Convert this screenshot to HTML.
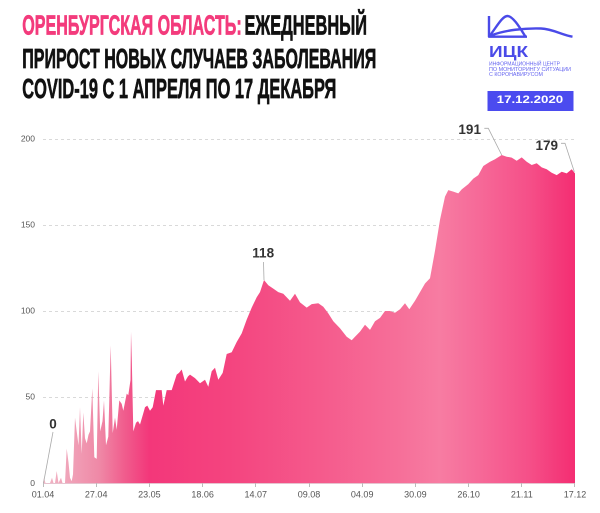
<!DOCTYPE html>
<html><head><meta charset="utf-8"><style>
html,body{margin:0;padding:0;background:#fff;}
svg{display:block;}
</style></head><body>
<svg width="600" height="513" viewBox="0 0 600 513" xmlns="http://www.w3.org/2000/svg">
<defs>
<linearGradient id="g" gradientUnits="userSpaceOnUse" x1="43" y1="0" x2="575" y2="0">
<stop offset="0" stop-color="#f2b6c6"/>
<stop offset="0.05" stop-color="#f0a2b8"/>
<stop offset="0.107" stop-color="#ef88a6"/>
<stop offset="0.154" stop-color="#f05c8d"/>
<stop offset="0.2" stop-color="#f3377a"/>
<stop offset="0.35" stop-color="#f4447f"/>
<stop offset="0.52" stop-color="#f55a8c"/>
<stop offset="0.67" stop-color="#f66f99"/>
<stop offset="0.746" stop-color="#f77ca2"/>
<stop offset="0.82" stop-color="#f66998"/>
<stop offset="0.915" stop-color="#f54f88"/>
<stop offset="1" stop-color="#f42d72"/>
</linearGradient>
</defs>
<rect width="600" height="513" fill="#fff"/>

<!-- Title -->
<g font-family="'Liberation Sans','DejaVu Sans',sans-serif" font-weight="bold" font-size="27.5" stroke-width="0.7">
<text x="22.3" y="34.5" fill="#f33b7c" stroke="#f33b7c" textLength="219.4" lengthAdjust="spacingAndGlyphs">ОРЕНБУРГСКАЯ ОБЛАСТЬ:</text>
<text x="244.5" y="34.5" fill="#111" stroke="#111" textLength="122.5" lengthAdjust="spacingAndGlyphs">ЕЖЕДНЕВНЫЙ</text>
<text x="22.3" y="68" fill="#111" stroke="#111" textLength="354" lengthAdjust="spacingAndGlyphs">ПРИРОСТ НОВЫХ СЛУЧАЕВ ЗАБОЛЕВАНИЯ</text>
<text x="22.3" y="97.8" fill="#111" stroke="#111" textLength="314" lengthAdjust="spacingAndGlyphs">COVID-19 С 1 АПРЕЛЯ ПО 17 ДЕКАБРЯ</text>
</g>

<!-- Logo -->
<g fill="none" stroke="#4a4ae8" stroke-width="2.4" stroke-linejoin="round" stroke-linecap="butt">
<path d="M489,16 V36.7 H527"/>
<path d="M489,36.7 C496,28 502,16 507.5,16 C513,16 520,28 525.5,36.7"/>
<path d="M491,35.5 C505,30 525,28 541,28.5 C553,29 562,35 572.5,36.7"/>
</g>
<g font-family="'Liberation Sans','DejaVu Sans',sans-serif" font-weight="bold" fill="#4a4ae8">
<text x="489" y="57" font-size="16" textLength="39" lengthAdjust="spacingAndGlyphs">ИЦК</text>
<g font-size="5" fill="#6464f0" font-weight="normal">
<text x="489" y="65.5" textLength="71" lengthAdjust="spacingAndGlyphs">ИНФОРМАЦИОННЫЙ ЦЕНТР</text>
<text x="489" y="70.8" textLength="82" lengthAdjust="spacingAndGlyphs">ПО МОНИТОРИНГУ СИТУАЦИИ</text>
<text x="489" y="76" textLength="54" lengthAdjust="spacingAndGlyphs">С КОРОНАВИРУСОМ</text>
</g>
</g>
<rect x="487.5" y="91" width="86" height="20" fill="#4b4bef"/>
<text x="496.7" y="102.8" font-family="'Liberation Sans',sans-serif" font-weight="bold" font-size="11" fill="#fff" textLength="66.5" lengthAdjust="spacingAndGlyphs">17.12.2020</text>

<!-- Grid -->
<g stroke="#d9d9d9" stroke-width="1" stroke-dasharray="3,3">
<line x1="43" y1="139.5" x2="575" y2="139.5"/>
<line x1="43" y1="225.5" x2="575" y2="225.5"/>
<line x1="43" y1="311.5" x2="575" y2="311.5"/>
<line x1="43" y1="397.5" x2="575" y2="397.5"/>
</g>
<g font-family="'Liberation Sans',sans-serif" font-size="8.5" fill="#555" text-anchor="end">
<text x="35" y="141.5">200</text>
<text x="35" y="227.5">150</text>
<text x="35" y="313.5">100</text>
<text x="35" y="399.5">50</text>
<text x="35" y="486">0</text>
</g>

<!-- Area -->
<path fill="url(#g)" d="M43,483 L44,477.8 L45.5,483 L50,483 L52,477.8 L53.5,483 L55,483 L56.7,471 L58.5,483 L61,477.8 L62.5,483 L65,483 L66.7,448.6 L68.5,462.4 L70,477.8 L71.7,481.3 L73,474.4 L75,417.6 L76.7,431.4 L78.5,445.2 L80,407.3 L81.7,453.8 L83.3,412.5 L85,438.3 L86.7,443.4 L88.5,434.8 L90,431.4 L92.3,388.4 L94.3,457.2 L96.7,458.9 L98.3,371.2 L100.2,431.4 L102.5,421.1 L104,400.4 L106,445.2 L108.3,436.6 L110.7,345.4 L112.7,433.1 L115,417.6 L116.7,429.7 L119.3,400.4 L121.7,403.9 L123.3,410.8 L126.7,393.6 L128.3,395.3 L130.5,380 L131,331.6 L131.8,360 L133.3,431.4 L136,422.8 L138,421.1 L140,424.5 L143,414.2 L145,407.3 L147.3,405.6 L150,410.8 L152.7,407.3 L156,390.1 L161.7,390.1 L163.3,405.6 L166.7,390.1 L171.7,390.1 L176.7,374.6 L179,372.9 L181.7,369.5 L185,381.5 L188,376.4 L190,374.6 L195,378.1 L200,383.2 L205,379.8 L208.3,386.7 L211.7,371.2 L215,367.8 L218.3,379.8 L222.7,372.9 L226.7,354 L231.7,352.3 L236.7,342 L241.7,333.4 L246.7,319.6 L251.7,307.6 L256.7,297.2 L260,292.1 L264,280 L268.3,285.2 L273.3,288.6 L278.3,292.1 L283.3,293.8 L290,300.7 L295,293.8 L300,302.4 L306.7,307.6 L311.7,304.1 L318.3,303.3 L323.3,306.7 L328.3,313.4 L333.3,321.3 L340,328.2 L346.7,336.8 L351.7,340.2 L355,336.8 L360,331.6 L365,324.8 L370,329.9 L375,321.3 L380,317.9 L385,311 L390,311 L395,312.7 L400,309.3 L405,303.3 L409.3,309.3 L415,300.7 L420,292.1 L425,283.5 L430,278.3 L435,250.8 L440,219.8 L445,196.6 L448.3,190.1 L453.3,191.6 L458.3,193.4 L461.7,189.4 L468.3,184.1 L473.3,178.6 L478.3,175.1 L483.3,166 L490,161.7 L495,159.3 L501.7,155 L506.7,156.7 L511.7,157.6 L516.7,160.7 L521.7,157.4 L526.7,161.7 L531.7,165 L536.7,163.3 L541.7,167.4 L546.7,169.3 L551.7,172.7 L556.7,175.1 L561.7,171.7 L566.7,173.4 L571.7,169.3 L575,173.4 L575,483 Z"/>

<!-- Axis -->
<line x1="43" y1="483.5" x2="575" y2="483.5" stroke="#e6c3cf" stroke-width="1"/>
<g stroke="#bbb" stroke-width="1">
<line x1="43.5" y1="483" x2="43.5" y2="487"/>
<line x1="96.5" y1="483" x2="96.5" y2="487"/>
<line x1="149.5" y1="483" x2="149.5" y2="487"/>
<line x1="202.5" y1="483" x2="202.5" y2="487"/>
<line x1="255.5" y1="483" x2="255.5" y2="487"/>
<line x1="309.5" y1="483" x2="309.5" y2="487"/>
<line x1="362.5" y1="483" x2="362.5" y2="487"/>
<line x1="415.5" y1="483" x2="415.5" y2="487"/>
<line x1="468.5" y1="483" x2="468.5" y2="487"/>
<line x1="521.5" y1="483" x2="521.5" y2="487"/>
<line x1="574.5" y1="483" x2="574.5" y2="487"/>
</g>
<g font-family="'Liberation Sans',sans-serif" font-size="9" fill="#555" text-anchor="middle">
<text x="43" y="497.5">01.04</text>
<text x="96.2" y="497.5">27.04</text>
<text x="149.4" y="497.5">23.05</text>
<text x="202.6" y="497.5">18.06</text>
<text x="255.8" y="497.5">14.07</text>
<text x="309" y="497.5">09.08</text>
<text x="362.2" y="497.5">04.09</text>
<text x="415.4" y="497.5">30.09</text>
<text x="468.6" y="497.5">26.10</text>
<text x="521.8" y="497.5">21.11</text>
<text x="575" y="497.5">17.12</text>
</g>

<!-- Annotations -->
<g fill="none" stroke="#aaa" stroke-width="0.8">
<path d="M53,432 L43.5,483"/>
<path d="M263.5,262 L264,280"/>
<path d="M484.3,128.3 L488.3,128.3 L501.7,155"/>
<path d="M561,143.3 L565,143.3 L574.3,171.7"/>
</g>
<g font-family="'Liberation Sans',sans-serif" font-weight="bold" font-size="13.5" fill="#333" text-anchor="middle">
<text x="53" y="428.5">0</text>
<text x="263.2" y="257.5">118</text>
<text x="469.7" y="134">191</text>
<text x="546.8" y="150">179</text>
</g>
</svg>
</body></html>
